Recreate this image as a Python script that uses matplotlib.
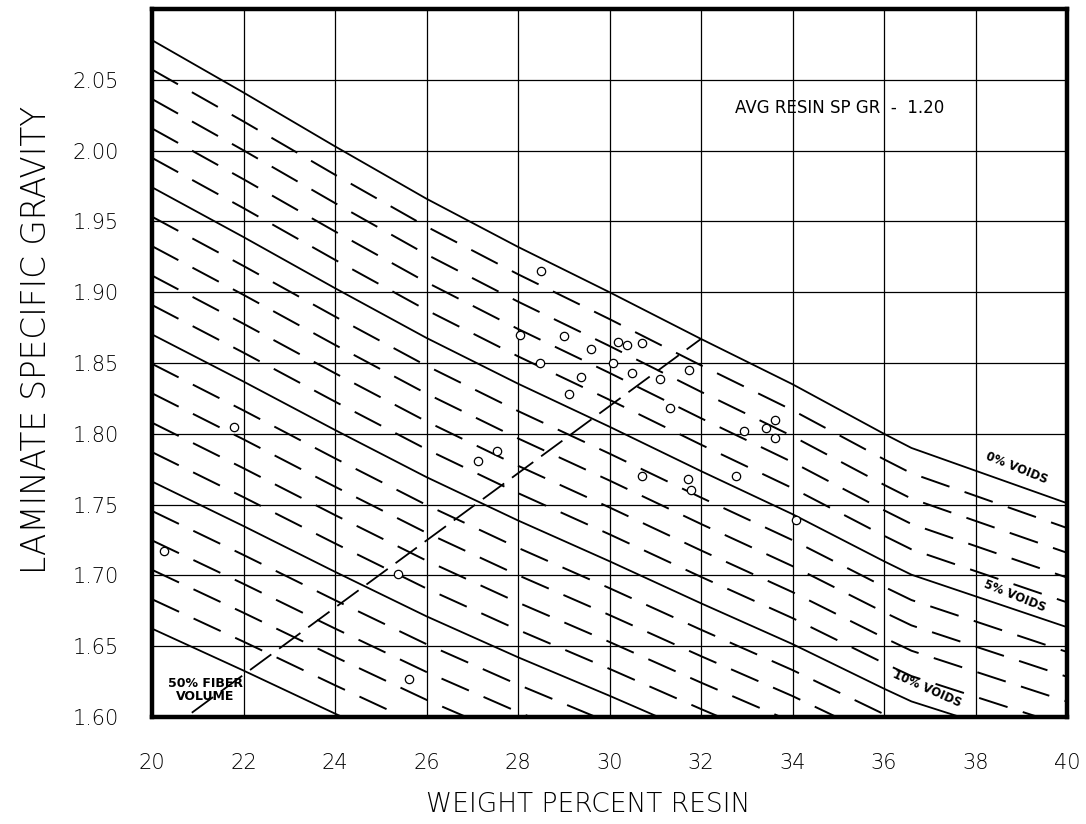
import matplotlib
matplotlib.use("Agg")
import numpy as np
from matplotlib import pyplot as plt

# 0% voids reference curve
zero_void_x = [20, 22, 24, 26, 28, 30, 32, 34, 36, 36.6, 40]
zero_void_y = [2.078, 2.041, 2.003, 1.966, 1.932, 1.900, 1.867, 1.835, 1.800, 1.790, 1.751]

void_pct = list(range(0, 21))
solid_voids = [0, 5, 10, 15, 20]

# 50% fiber volume line
fiber_x = [20.87, 32.0]
fiber_y = [1.603, 1.867]

# test specimens
resin_pct = [28.50, 28.04, 29.01, 29.60, 30.19, 30.38, 30.72, 28.48, 30.08, 30.50,
             31.10, 31.74, 29.38, 29.12, 31.32, 32.93, 33.41, 33.62, 33.62, 30.70,
             31.72, 31.79, 32.77, 34.08, 27.13, 27.54, 21.80, 20.26, 25.38, 25.62]
spec_grav = [1.915, 1.870, 1.869, 1.860, 1.865, 1.863, 1.864, 1.850, 1.850, 1.843,
             1.839, 1.845, 1.840, 1.828, 1.818, 1.802, 1.804, 1.810, 1.797, 1.770,
             1.768, 1.760, 1.770, 1.739, 1.781, 1.788, 1.805, 1.717, 1.701, 1.627]

x_ticks = [20, 22, 24, 26, 28, 30, 32, 34, 36, 38, 40]
y_ticks = [1.60, 1.65, 1.70, 1.75, 1.80, 1.85, 1.90, 1.95, 2.00, 2.05]

plt.rcParams['lines.scale_dashes'] = False

fig = plt.figure(figsize=(10.86, 8.24), dpi=100)
ax = fig.add_axes([152/1086, 1 - 717/824, (1067 - 152)/1086, (717 - 9)/824])
ax.set_xlim(20, 40)
ax.set_ylim(1.60, 2.10)

for x in x_ticks[1:-1]:
    ax.axvline(x, color='black', lw=0.9, zorder=1)
for y in y_ticks[1:] + [2.10]:
    ax.axhline(y, color='black', lw=0.9, zorder=1)

zx = np.array(zero_void_x)
zy = np.array(zero_void_y)
for v in void_pct:
    vy = zy * (1 - v/100.0)
    if v in solid_voids:
        ax.plot(zx, vy, color='black', lw=1.3, zorder=2)
    else:
        ax.plot(zx, vy, color='black', lw=1.4, dashes=(21.5, 11.5), zorder=2)

ax.plot(fiber_x, fiber_y, color='black', lw=1.3, dashes=(19, 7), zorder=2)

ax.plot(resin_pct, spec_grav, 'o', ms=6, mfc='white', mec='black', mew=0.9, zorder=4)

ax.text(35.04, 2.030, 'AVG RESIN SP GR  -  1.20', ha='center', va='center',
        fontsize=12, zorder=5)
ax.text(38.89, 1.7758, '0% VOIDS', ha='center', va='center', rotation=-22,
        fontsize=8.5, fontweight='bold', rotation_mode='anchor', zorder=5)
ax.text(38.86, 1.6855, '5% VOIDS', ha='center', va='center', rotation=-22,
        fontsize=8.5, fontweight='bold', rotation_mode='anchor', zorder=5)
ax.text(36.94, 1.6198, '10% VOIDS', ha='center', va='center', rotation=-24,
        fontsize=8.5, fontweight='bold', rotation_mode='anchor', zorder=5)
ax.text(21.16, 1.619, '50% FIBER\nVOLUME', ha='center', va='center',
        fontsize=9, fontweight='bold', linespacing=1.0, zorder=5)

ax.set_xticks(x_ticks)
ax.set_yticks(y_ticks)
ax.set_xticklabels([str(t) for t in x_ticks], fontsize=15, fontweight='light',
                   family=['Liberation Sans Narrow', 'DejaVu Sans'])
ax.set_yticklabels(['%.2f' % t for t in y_ticks], fontsize=15, fontweight='light')
ax.tick_params(length=0, pad=24)
ax.tick_params(axis='x', pad=26)
ax.grid(False)

for s in ax.spines.values():
    s.set_linewidth(3.2)

fig.text(37/1086, 1 - 340/824, 'LAMINATE SPECIFIC GRAVITY', rotation=90,
         ha='center', va='center', fontsize=23.5, fontweight='light')
fig.text(588/1086, 1 - 805/824, 'WEIGHT PERCENT RESIN', ha='center', va='center',
         fontsize=19, fontweight='light')

fig.savefig('out.png', dpi=100)
